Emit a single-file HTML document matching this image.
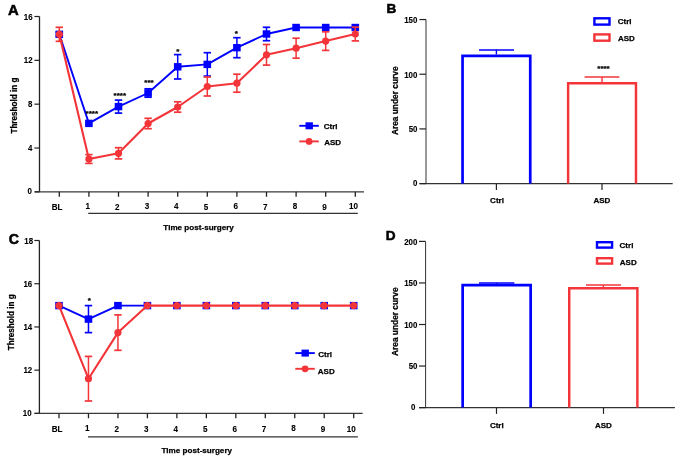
<!DOCTYPE html>
<html><head><meta charset="utf-8"><title>Figure</title>
<style>
html,body{margin:0;padding:0;background:#fff;}
body{width:676px;height:457px;overflow:hidden;}
svg{display:block;will-change:transform;}
text{font-family:"Liberation Sans",sans-serif;font-weight:bold;fill:#000;stroke:#000;stroke-width:0.25px;}
text.tl{stroke-width:0.12px;}
text.pl{stroke-width:0.55px;}
</style></head>
<body>
<svg width="676" height="457" viewBox="0 0 676 457">
<rect x="0" y="0" width="676" height="457" fill="#fff"/>
<line x1="39.50" y1="16.50" x2="39.50" y2="191.85" stroke="#222" stroke-width="1.3" />
<line x1="34.90" y1="191.85" x2="364.00" y2="191.85" stroke="#3a3a3a" stroke-width="1.3" />
<line x1="34.40" y1="191.85" x2="39.50" y2="191.85" stroke="#222" stroke-width="1.2" />
<text transform="translate(32.00,193.95) scale(0.93,1)" font-size="8.5" text-anchor="end" class="tl">0</text>
<line x1="34.40" y1="148.01" x2="39.50" y2="148.01" stroke="#222" stroke-width="1.2" />
<text transform="translate(32.30,151.11) scale(0.93,1)" font-size="8.5" text-anchor="end" class="tl">4</text>
<line x1="34.40" y1="104.17" x2="39.50" y2="104.17" stroke="#222" stroke-width="1.2" />
<text transform="translate(32.30,107.27) scale(0.93,1)" font-size="8.5" text-anchor="end" class="tl">8</text>
<line x1="34.40" y1="60.34" x2="39.50" y2="60.34" stroke="#222" stroke-width="1.2" />
<text transform="translate(32.60,63.44) scale(0.93,1)" font-size="8.5" text-anchor="end" class="tl">12</text>
<line x1="34.40" y1="16.50" x2="39.50" y2="16.50" stroke="#222" stroke-width="1.2" />
<text transform="translate(32.60,19.60) scale(0.93,1)" font-size="8.5" text-anchor="end" class="tl">16</text>
<line x1="59.30" y1="191.85" x2="59.30" y2="196.75" stroke="#222" stroke-width="1.3" />
<text transform="translate(57.10,209.70) scale(0.95,1)" font-size="8.5" text-anchor="middle" class="tl">BL</text>
<line x1="88.90" y1="191.85" x2="88.90" y2="196.75" stroke="#222" stroke-width="1.3" />
<text transform="translate(87.70,208.70) scale(0.95,1)" font-size="8.5" text-anchor="middle" class="tl">1</text>
<line x1="118.50" y1="191.85" x2="118.50" y2="196.75" stroke="#222" stroke-width="1.3" />
<text transform="translate(117.30,209.70) scale(0.95,1)" font-size="8.5" text-anchor="middle" class="tl">2</text>
<line x1="148.10" y1="191.85" x2="148.10" y2="196.75" stroke="#222" stroke-width="1.3" />
<text transform="translate(146.90,209.20) scale(0.95,1)" font-size="8.5" text-anchor="middle" class="tl">3</text>
<line x1="177.70" y1="191.85" x2="177.70" y2="196.75" stroke="#222" stroke-width="1.3" />
<text transform="translate(176.30,208.70) scale(0.95,1)" font-size="8.5" text-anchor="middle" class="tl">4</text>
<line x1="207.30" y1="191.85" x2="207.30" y2="196.75" stroke="#222" stroke-width="1.3" />
<text transform="translate(206.10,209.70) scale(0.95,1)" font-size="8.5" text-anchor="middle" class="tl">5</text>
<line x1="236.90" y1="191.85" x2="236.90" y2="196.75" stroke="#222" stroke-width="1.3" />
<text transform="translate(235.70,208.70) scale(0.95,1)" font-size="8.5" text-anchor="middle" class="tl">6</text>
<line x1="266.50" y1="191.85" x2="266.50" y2="196.75" stroke="#222" stroke-width="1.3" />
<text transform="translate(265.30,209.70) scale(0.95,1)" font-size="8.5" text-anchor="middle" class="tl">7</text>
<line x1="296.10" y1="191.85" x2="296.10" y2="196.75" stroke="#222" stroke-width="1.3" />
<text transform="translate(294.90,208.70) scale(0.95,1)" font-size="8.5" text-anchor="middle" class="tl">8</text>
<line x1="325.70" y1="191.85" x2="325.70" y2="196.75" stroke="#222" stroke-width="1.3" />
<text transform="translate(324.50,209.70) scale(0.95,1)" font-size="8.5" text-anchor="middle" class="tl">9</text>
<line x1="355.30" y1="191.85" x2="355.30" y2="196.75" stroke="#222" stroke-width="1.3" />
<text transform="translate(353.60,208.70) scale(0.95,1)" font-size="8.5" text-anchor="middle" class="tl">10</text>
<line x1="88.20" y1="213.30" x2="357.80" y2="213.30" stroke="#333" stroke-width="1.3" />
<text x="198.60" y="229.90" font-size="8.1" text-anchor="middle" >Time post-surgery</text>
<text x="0" y="0" font-size="8.15" text-anchor="middle" transform="translate(16.8,105.6) rotate(-90)">Threshold in g</text>
<text x="7.90" y="14.60" font-size="14.8" text-anchor="start" class="pl">A</text>
<polyline points="59.30,34.30 88.90,123.40 118.50,106.60 148.10,93.00 177.70,66.80 207.30,64.40 236.90,47.70 266.50,34.00 296.10,27.50 325.70,27.50 355.30,27.50" fill="none" stroke="#0000FF" stroke-width="1.9" stroke-linejoin="round"/>
<line x1="59.30" y1="32.30" x2="59.30" y2="36.30" stroke="#0000FF" stroke-width="1.5" />
<line x1="55.60" y1="32.30" x2="63.00" y2="32.30" stroke="#0000FF" stroke-width="1.7" />
<line x1="55.60" y1="36.30" x2="63.00" y2="36.30" stroke="#0000FF" stroke-width="1.7" />
<rect x="55.50" y="30.60" width="7.6" height="7.4" fill="#0000FF"/>
<rect x="85.10" y="119.70" width="7.6" height="7.4" fill="#0000FF"/>
<line x1="118.50" y1="100.10" x2="118.50" y2="113.10" stroke="#0000FF" stroke-width="1.5" />
<line x1="114.80" y1="100.10" x2="122.20" y2="100.10" stroke="#0000FF" stroke-width="1.7" />
<line x1="114.80" y1="113.10" x2="122.20" y2="113.10" stroke="#0000FF" stroke-width="1.7" />
<rect x="114.70" y="102.90" width="7.6" height="7.4" fill="#0000FF"/>
<line x1="148.10" y1="88.80" x2="148.10" y2="97.20" stroke="#0000FF" stroke-width="1.5" />
<line x1="144.40" y1="88.80" x2="151.80" y2="88.80" stroke="#0000FF" stroke-width="1.7" />
<line x1="144.40" y1="97.20" x2="151.80" y2="97.20" stroke="#0000FF" stroke-width="1.7" />
<rect x="144.30" y="89.30" width="7.6" height="7.4" fill="#0000FF"/>
<line x1="177.70" y1="54.60" x2="177.70" y2="79.00" stroke="#0000FF" stroke-width="1.5" />
<line x1="174.00" y1="54.60" x2="181.40" y2="54.60" stroke="#0000FF" stroke-width="1.7" />
<line x1="174.00" y1="79.00" x2="181.40" y2="79.00" stroke="#0000FF" stroke-width="1.7" />
<rect x="173.90" y="63.10" width="7.6" height="7.4" fill="#0000FF"/>
<line x1="207.30" y1="52.70" x2="207.30" y2="76.10" stroke="#0000FF" stroke-width="1.5" />
<line x1="203.60" y1="52.70" x2="211.00" y2="52.70" stroke="#0000FF" stroke-width="1.7" />
<line x1="203.60" y1="76.10" x2="211.00" y2="76.10" stroke="#0000FF" stroke-width="1.7" />
<rect x="203.50" y="60.70" width="7.6" height="7.4" fill="#0000FF"/>
<line x1="236.90" y1="37.70" x2="236.90" y2="57.70" stroke="#0000FF" stroke-width="1.5" />
<line x1="233.20" y1="37.70" x2="240.60" y2="37.70" stroke="#0000FF" stroke-width="1.7" />
<line x1="233.20" y1="57.70" x2="240.60" y2="57.70" stroke="#0000FF" stroke-width="1.7" />
<rect x="233.10" y="44.00" width="7.6" height="7.4" fill="#0000FF"/>
<line x1="266.50" y1="27.30" x2="266.50" y2="40.70" stroke="#0000FF" stroke-width="1.5" />
<line x1="262.80" y1="27.30" x2="270.20" y2="27.30" stroke="#0000FF" stroke-width="1.7" />
<line x1="262.80" y1="40.70" x2="270.20" y2="40.70" stroke="#0000FF" stroke-width="1.7" />
<rect x="262.70" y="30.30" width="7.6" height="7.4" fill="#0000FF"/>
<rect x="292.30" y="23.80" width="7.6" height="7.4" fill="#0000FF"/>
<rect x="321.90" y="23.80" width="7.6" height="7.4" fill="#0000FF"/>
<rect x="351.50" y="23.80" width="7.6" height="7.4" fill="#0000FF"/>
<polyline points="59.30,34.30 88.90,159.00 118.50,153.30 148.10,123.50 177.70,107.00 207.30,86.50 236.90,83.20 266.50,54.80 296.10,48.20 325.70,41.10 355.30,34.00" fill="none" stroke="#F33438" stroke-width="2.1" stroke-linejoin="round"/>
<line x1="59.30" y1="27.30" x2="59.30" y2="41.30" stroke="#F33438" stroke-width="1.5" />
<line x1="55.60" y1="27.30" x2="63.00" y2="27.30" stroke="#F33438" stroke-width="1.7" />
<line x1="55.60" y1="41.30" x2="63.00" y2="41.30" stroke="#F33438" stroke-width="1.7" />
<circle cx="59.30" cy="34.30" r="3.6" fill="#F33438"/>
<line x1="88.90" y1="154.60" x2="88.90" y2="163.40" stroke="#F33438" stroke-width="1.5" />
<line x1="85.20" y1="154.60" x2="92.60" y2="154.60" stroke="#F33438" stroke-width="1.7" />
<line x1="85.20" y1="163.40" x2="92.60" y2="163.40" stroke="#F33438" stroke-width="1.7" />
<circle cx="88.90" cy="159.00" r="3.6" fill="#F33438"/>
<line x1="118.50" y1="147.70" x2="118.50" y2="158.90" stroke="#F33438" stroke-width="1.5" />
<line x1="114.80" y1="147.70" x2="122.20" y2="147.70" stroke="#F33438" stroke-width="1.7" />
<line x1="114.80" y1="158.90" x2="122.20" y2="158.90" stroke="#F33438" stroke-width="1.7" />
<circle cx="118.50" cy="153.30" r="3.6" fill="#F33438"/>
<line x1="148.10" y1="118.30" x2="148.10" y2="128.70" stroke="#F33438" stroke-width="1.5" />
<line x1="144.40" y1="118.30" x2="151.80" y2="118.30" stroke="#F33438" stroke-width="1.7" />
<line x1="144.40" y1="128.70" x2="151.80" y2="128.70" stroke="#F33438" stroke-width="1.7" />
<circle cx="148.10" cy="123.50" r="3.6" fill="#F33438"/>
<line x1="177.70" y1="101.80" x2="177.70" y2="112.20" stroke="#F33438" stroke-width="1.5" />
<line x1="174.00" y1="101.80" x2="181.40" y2="101.80" stroke="#F33438" stroke-width="1.7" />
<line x1="174.00" y1="112.20" x2="181.40" y2="112.20" stroke="#F33438" stroke-width="1.7" />
<circle cx="177.70" cy="107.00" r="3.6" fill="#F33438"/>
<line x1="207.30" y1="77.00" x2="207.30" y2="96.00" stroke="#F33438" stroke-width="1.5" />
<line x1="203.60" y1="77.00" x2="211.00" y2="77.00" stroke="#F33438" stroke-width="1.7" />
<line x1="203.60" y1="96.00" x2="211.00" y2="96.00" stroke="#F33438" stroke-width="1.7" />
<circle cx="207.30" cy="86.50" r="3.6" fill="#F33438"/>
<line x1="236.90" y1="74.20" x2="236.90" y2="92.20" stroke="#F33438" stroke-width="1.5" />
<line x1="233.20" y1="74.20" x2="240.60" y2="74.20" stroke="#F33438" stroke-width="1.7" />
<line x1="233.20" y1="92.20" x2="240.60" y2="92.20" stroke="#F33438" stroke-width="1.7" />
<circle cx="236.90" cy="83.20" r="3.6" fill="#F33438"/>
<line x1="266.50" y1="44.50" x2="266.50" y2="65.10" stroke="#F33438" stroke-width="1.5" />
<line x1="262.80" y1="44.50" x2="270.20" y2="44.50" stroke="#F33438" stroke-width="1.7" />
<line x1="262.80" y1="65.10" x2="270.20" y2="65.10" stroke="#F33438" stroke-width="1.7" />
<circle cx="266.50" cy="54.80" r="3.6" fill="#F33438"/>
<line x1="296.10" y1="38.20" x2="296.10" y2="58.20" stroke="#F33438" stroke-width="1.5" />
<line x1="292.40" y1="38.20" x2="299.80" y2="38.20" stroke="#F33438" stroke-width="1.7" />
<line x1="292.40" y1="58.20" x2="299.80" y2="58.20" stroke="#F33438" stroke-width="1.7" />
<circle cx="296.10" cy="48.20" r="3.6" fill="#F33438"/>
<line x1="325.70" y1="31.80" x2="325.70" y2="50.40" stroke="#F33438" stroke-width="1.5" />
<line x1="322.00" y1="31.80" x2="329.40" y2="31.80" stroke="#F33438" stroke-width="1.7" />
<line x1="322.00" y1="50.40" x2="329.40" y2="50.40" stroke="#F33438" stroke-width="1.7" />
<circle cx="325.70" cy="41.10" r="3.6" fill="#F33438"/>
<line x1="355.30" y1="27.10" x2="355.30" y2="40.90" stroke="#F33438" stroke-width="1.5" />
<line x1="351.60" y1="27.10" x2="359.00" y2="27.10" stroke="#F33438" stroke-width="1.7" />
<line x1="351.60" y1="40.90" x2="359.00" y2="40.90" stroke="#F33438" stroke-width="1.7" />
<circle cx="355.30" cy="34.00" r="3.6" fill="#F33438"/>
<text x="91.80" y="116.00" font-size="8" text-anchor="middle" >****</text>
<text x="119.80" y="97.90" font-size="8" text-anchor="middle" >****</text>
<text x="149.00" y="84.90" font-size="8" text-anchor="middle" >***</text>
<text x="177.80" y="54.00" font-size="8" text-anchor="middle" >*</text>
<text x="236.20" y="35.60" font-size="8" text-anchor="middle" >*</text>
<line x1="299.30" y1="125.80" x2="318.80" y2="125.80" stroke="#0000FF" stroke-width="1.9" />
<rect x="305.50" y="122.30" width="7.4" height="7" fill="#0000FF"/>
<text x="323.70" y="129.10" font-size="8" text-anchor="start" >Ctrl</text>
<line x1="299.30" y1="141.40" x2="318.80" y2="141.40" stroke="#F33438" stroke-width="1.9" />
<circle cx="309.10" cy="141.40" r="3.4" fill="#F33438"/>
<text x="324.20" y="144.70" font-size="8" text-anchor="start" >ASD</text>
<line x1="39.40" y1="240.50" x2="39.40" y2="413.40" stroke="#222" stroke-width="1.3" />
<line x1="34.80" y1="413.40" x2="362.70" y2="413.40" stroke="#3a3a3a" stroke-width="1.3" />
<line x1="34.30" y1="413.40" x2="39.40" y2="413.40" stroke="#222" stroke-width="1.2" />
<text transform="translate(31.60,416.40) scale(0.93,1)" font-size="8.5" text-anchor="end" class="tl">10</text>
<line x1="34.30" y1="370.17" x2="39.40" y2="370.17" stroke="#222" stroke-width="1.2" />
<text transform="translate(32.20,373.17) scale(0.93,1)" font-size="8.5" text-anchor="end" class="tl">12</text>
<line x1="34.30" y1="326.95" x2="39.40" y2="326.95" stroke="#222" stroke-width="1.2" />
<text transform="translate(32.20,329.95) scale(0.93,1)" font-size="8.5" text-anchor="end" class="tl">14</text>
<line x1="34.30" y1="283.73" x2="39.40" y2="283.73" stroke="#222" stroke-width="1.2" />
<text transform="translate(32.20,286.73) scale(0.93,1)" font-size="8.5" text-anchor="end" class="tl">16</text>
<line x1="34.30" y1="240.50" x2="39.40" y2="240.50" stroke="#222" stroke-width="1.2" />
<text transform="translate(33.10,243.50) scale(0.93,1)" font-size="8.5" text-anchor="end" class="tl">18</text>
<line x1="59.00" y1="413.40" x2="59.00" y2="418.30" stroke="#222" stroke-width="1.3" />
<text transform="translate(57.00,431.60) scale(0.95,1)" font-size="8.5" text-anchor="middle" class="tl">BL</text>
<line x1="88.47" y1="413.40" x2="88.47" y2="418.30" stroke="#222" stroke-width="1.3" />
<text transform="translate(87.27,430.60) scale(0.95,1)" font-size="8.5" text-anchor="middle" class="tl">1</text>
<line x1="117.94" y1="413.40" x2="117.94" y2="418.30" stroke="#222" stroke-width="1.3" />
<text transform="translate(116.74,431.60) scale(0.95,1)" font-size="8.5" text-anchor="middle" class="tl">2</text>
<line x1="147.41" y1="413.40" x2="147.41" y2="418.30" stroke="#222" stroke-width="1.3" />
<text transform="translate(146.21,432.10) scale(0.95,1)" font-size="8.5" text-anchor="middle" class="tl">3</text>
<line x1="176.88" y1="413.40" x2="176.88" y2="418.30" stroke="#222" stroke-width="1.3" />
<text transform="translate(175.68,432.10) scale(0.95,1)" font-size="8.5" text-anchor="middle" class="tl">4</text>
<line x1="206.35" y1="413.40" x2="206.35" y2="418.30" stroke="#222" stroke-width="1.3" />
<text transform="translate(205.15,432.10) scale(0.95,1)" font-size="8.5" text-anchor="middle" class="tl">5</text>
<line x1="235.82" y1="413.40" x2="235.82" y2="418.30" stroke="#222" stroke-width="1.3" />
<text transform="translate(234.62,431.60) scale(0.95,1)" font-size="8.5" text-anchor="middle" class="tl">6</text>
<line x1="265.29" y1="413.40" x2="265.29" y2="418.30" stroke="#222" stroke-width="1.3" />
<text transform="translate(264.09,431.60) scale(0.95,1)" font-size="8.5" text-anchor="middle" class="tl">7</text>
<line x1="294.76" y1="413.40" x2="294.76" y2="418.30" stroke="#222" stroke-width="1.3" />
<text transform="translate(293.56,431.10) scale(0.95,1)" font-size="8.5" text-anchor="middle" class="tl">8</text>
<line x1="324.23" y1="413.40" x2="324.23" y2="418.30" stroke="#222" stroke-width="1.3" />
<text transform="translate(323.03,432.10) scale(0.95,1)" font-size="8.5" text-anchor="middle" class="tl">9</text>
<line x1="353.70" y1="413.40" x2="353.70" y2="418.30" stroke="#222" stroke-width="1.3" />
<text transform="translate(351.30,431.60) scale(0.95,1)" font-size="8.5" text-anchor="middle" class="tl">10</text>
<line x1="88.00" y1="436.80" x2="357.90" y2="436.80" stroke="#333" stroke-width="1.3" />
<text x="196.80" y="452.70" font-size="8.1" text-anchor="middle" >Time post-surgery</text>
<text x="0" y="0" font-size="8.15" text-anchor="middle" transform="translate(13.9,322.3) rotate(-90)">Threshold in g</text>
<text x="8.80" y="243.80" font-size="14.2" text-anchor="start" class="pl">C</text>
<polyline points="59.00,305.60 88.47,319.10 117.94,305.60 147.41,305.60" fill="none" stroke="#0000FF" stroke-width="1.9" stroke-linejoin="round"/>
<rect x="55.20" y="301.90" width="7.6" height="7.4" fill="#0000FF"/>
<line x1="88.47" y1="305.60" x2="88.47" y2="332.60" stroke="#0000FF" stroke-width="1.5" />
<line x1="84.77" y1="305.60" x2="92.17" y2="305.60" stroke="#0000FF" stroke-width="1.7" />
<line x1="84.77" y1="332.60" x2="92.17" y2="332.60" stroke="#0000FF" stroke-width="1.7" />
<rect x="84.67" y="315.40" width="7.6" height="7.4" fill="#0000FF"/>
<rect x="114.14" y="301.90" width="7.6" height="7.4" fill="#0000FF"/>
<rect x="143.61" y="301.90" width="7.6" height="7.4" fill="#0000FF"/>
<rect x="173.08" y="301.90" width="7.6" height="7.4" fill="#0000FF"/>
<rect x="202.55" y="301.90" width="7.6" height="7.4" fill="#0000FF"/>
<rect x="232.02" y="301.90" width="7.6" height="7.4" fill="#0000FF"/>
<rect x="261.49" y="301.90" width="7.6" height="7.4" fill="#0000FF"/>
<rect x="290.96" y="301.90" width="7.6" height="7.4" fill="#0000FF"/>
<rect x="320.43" y="301.90" width="7.6" height="7.4" fill="#0000FF"/>
<rect x="349.90" y="301.90" width="7.6" height="7.4" fill="#0000FF"/>
<polyline points="59.00,305.60 88.47,378.70 117.94,332.60 147.41,305.60 176.88,305.60 206.35,305.60 235.82,305.60 265.29,305.60 294.76,305.60 324.23,305.60 353.70,305.60" fill="none" stroke="#F33438" stroke-width="2.1" stroke-linejoin="round"/>
<circle cx="59.00" cy="305.60" r="3.6" fill="#F33438"/>
<line x1="88.47" y1="356.40" x2="88.47" y2="401.00" stroke="#F33438" stroke-width="1.5" />
<line x1="84.77" y1="356.40" x2="92.17" y2="356.40" stroke="#F33438" stroke-width="1.7" />
<line x1="84.77" y1="401.00" x2="92.17" y2="401.00" stroke="#F33438" stroke-width="1.7" />
<circle cx="88.47" cy="378.70" r="3.6" fill="#F33438"/>
<line x1="117.94" y1="314.90" x2="117.94" y2="350.30" stroke="#F33438" stroke-width="1.5" />
<line x1="114.24" y1="314.90" x2="121.64" y2="314.90" stroke="#F33438" stroke-width="1.7" />
<line x1="114.24" y1="350.30" x2="121.64" y2="350.30" stroke="#F33438" stroke-width="1.7" />
<circle cx="117.94" cy="332.60" r="3.6" fill="#F33438"/>
<circle cx="147.41" cy="305.60" r="3.6" fill="#F33438"/>
<circle cx="176.88" cy="305.60" r="3.6" fill="#F33438"/>
<circle cx="206.35" cy="305.60" r="3.6" fill="#F33438"/>
<circle cx="235.82" cy="305.60" r="3.6" fill="#F33438"/>
<circle cx="265.29" cy="305.60" r="3.6" fill="#F33438"/>
<circle cx="294.76" cy="305.60" r="3.6" fill="#F33438"/>
<circle cx="324.23" cy="305.60" r="3.6" fill="#F33438"/>
<circle cx="353.70" cy="305.60" r="3.6" fill="#F33438"/>
<text x="89.20" y="302.70" font-size="8" text-anchor="middle" >*</text>
<line x1="295.30" y1="353.10" x2="314.80" y2="353.10" stroke="#0000FF" stroke-width="1.9" />
<rect x="301.50" y="349.60" width="7.4" height="7" fill="#0000FF"/>
<text x="318.30" y="356.70" font-size="8" text-anchor="start" >Ctrl</text>
<line x1="295.30" y1="368.80" x2="314.80" y2="368.80" stroke="#F33438" stroke-width="1.9" />
<circle cx="305.10" cy="368.80" r="3.4" fill="#F33438"/>
<text x="317.80" y="373.90" font-size="8" text-anchor="start" >ASD</text>
<line x1="426.00" y1="19.55" x2="426.00" y2="183.60" stroke="#333" stroke-width="1.0" />
<line x1="419.60" y1="183.60" x2="672.70" y2="183.60" stroke="#333" stroke-width="1.2" />
<line x1="419.40" y1="183.60" x2="426.00" y2="183.60" stroke="#222" stroke-width="1.2" />
<text transform="translate(417.40,186.20) scale(0.93,1)" font-size="8.5" text-anchor="end" class="tl">0</text>
<line x1="419.40" y1="128.92" x2="426.00" y2="128.92" stroke="#222" stroke-width="1.2" />
<text transform="translate(417.40,132.22) scale(0.93,1)" font-size="8.5" text-anchor="end" class="tl">50</text>
<line x1="419.40" y1="74.23" x2="426.00" y2="74.23" stroke="#222" stroke-width="1.2" />
<text transform="translate(417.40,77.53) scale(0.93,1)" font-size="8.5" text-anchor="end" class="tl">100</text>
<line x1="419.40" y1="19.55" x2="426.00" y2="19.55" stroke="#222" stroke-width="1.2" />
<text transform="translate(417.40,23.25) scale(0.93,1)" font-size="8.5" text-anchor="end" class="tl">150</text>
<line x1="496.40" y1="183.60" x2="496.40" y2="189.90" stroke="#222" stroke-width="1.2" />
<text x="497.00" y="203.10" font-size="8" text-anchor="middle" >Ctrl</text>
<line x1="602.00" y1="183.60" x2="602.00" y2="189.90" stroke="#222" stroke-width="1.2" />
<text x="601.90" y="203.10" font-size="8" text-anchor="middle" >ASD</text>
<text x="0" y="0" font-size="8.35" text-anchor="middle" transform="translate(397.7,100.8) rotate(-90)">Area under curve</text>
<text x="386.60" y="13.30" font-size="13.6" text-anchor="start" class="pl">B</text>
<path d="M462.55,183.60 V55.85 H530.25 V183.60" fill="none" stroke="#0000FF" stroke-width="2.7"/>
<line x1="496.40" y1="49.90" x2="496.40" y2="54.50" stroke="#0000FF" stroke-width="1.4" />
<line x1="479.00" y1="49.90" x2="514.00" y2="49.90" stroke="#0000FF" stroke-width="1.5" />
<path d="M568.12,183.60 V83.22 H635.98 V183.60" fill="none" stroke="#F33438" stroke-width="2.45"/>
<line x1="602.05" y1="77.00" x2="602.05" y2="82.00" stroke="#F33438" stroke-width="1.4" />
<line x1="584.60" y1="77.00" x2="619.30" y2="77.00" stroke="#F33438" stroke-width="1.5" />
<text x="603.50" y="71.20" font-size="8" text-anchor="middle" >****</text>
<rect x="594.40" y="18.30" width="15.1" height="6.3" fill="none" stroke="#0000FF" stroke-width="2.4"/>
<text x="617.80" y="23.70" font-size="8" text-anchor="start" >Ctrl</text>
<rect x="594.40" y="34.40" width="15.1" height="6.3" fill="none" stroke="#F33438" stroke-width="2.4"/>
<text x="618.00" y="41.10" font-size="8" text-anchor="start" >ASD</text>
<line x1="425.60" y1="241.40" x2="425.60" y2="407.60" stroke="#333" stroke-width="1.0" />
<line x1="419.00" y1="407.60" x2="674.90" y2="407.60" stroke="#333" stroke-width="1.2" />
<line x1="419.00" y1="407.60" x2="425.60" y2="407.60" stroke="#222" stroke-width="1.2" />
<text transform="translate(415.50,409.80) scale(0.93,1)" font-size="8.5" text-anchor="end" class="tl">0</text>
<line x1="419.00" y1="366.05" x2="425.60" y2="366.05" stroke="#222" stroke-width="1.2" />
<text transform="translate(417.40,369.35) scale(0.93,1)" font-size="8.5" text-anchor="end" class="tl">50</text>
<line x1="419.00" y1="324.50" x2="425.60" y2="324.50" stroke="#222" stroke-width="1.2" />
<text transform="translate(417.40,327.80) scale(0.93,1)" font-size="8.5" text-anchor="end" class="tl">100</text>
<line x1="419.00" y1="282.95" x2="425.60" y2="282.95" stroke="#222" stroke-width="1.2" />
<text transform="translate(417.40,286.25) scale(0.93,1)" font-size="8.5" text-anchor="end" class="tl">150</text>
<line x1="419.00" y1="241.40" x2="425.60" y2="241.40" stroke="#222" stroke-width="1.2" />
<text transform="translate(417.40,244.70) scale(0.93,1)" font-size="8.5" text-anchor="end" class="tl">200</text>
<line x1="496.50" y1="407.60" x2="496.50" y2="413.90" stroke="#222" stroke-width="1.2" />
<text x="496.80" y="427.70" font-size="8" text-anchor="middle" >Ctrl</text>
<line x1="603.50" y1="407.60" x2="603.50" y2="413.90" stroke="#222" stroke-width="1.2" />
<text x="603.40" y="427.70" font-size="8" text-anchor="middle" >ASD</text>
<text x="0" y="0" font-size="8.35" text-anchor="middle" transform="translate(397.9,321.7) rotate(-90)">Area under curve</text>
<text x="385.70" y="240.10" font-size="13.6" text-anchor="start" class="pl">D</text>
<path d="M462.65,407.60 V285.05 H530.65 V407.60" fill="none" stroke="#0000FF" stroke-width="2.7"/>
<line x1="496.65" y1="282.95" x2="496.65" y2="283.70" stroke="#0000FF" stroke-width="1.4" />
<line x1="479.00" y1="282.95" x2="514.30" y2="282.95" stroke="#0000FF" stroke-width="1.5" />
<path d="M569.23,407.60 V288.23 H637.38 V407.60" fill="none" stroke="#F33438" stroke-width="2.45"/>
<line x1="603.30" y1="284.95" x2="603.30" y2="287.00" stroke="#F33438" stroke-width="1.4" />
<line x1="586.00" y1="284.95" x2="621.00" y2="284.95" stroke="#F33438" stroke-width="1.5" />
<rect x="597.00" y="242.20" width="15.1" height="5.4" fill="none" stroke="#0000FF" stroke-width="2.4"/>
<text x="619.60" y="248.40" font-size="8" text-anchor="start" >Ctrl</text>
<rect x="597.00" y="258.20" width="15.1" height="5.4" fill="none" stroke="#F33438" stroke-width="2.4"/>
<text x="619.80" y="264.90" font-size="8" text-anchor="start" >ASD</text>
</svg>
</body></html>
